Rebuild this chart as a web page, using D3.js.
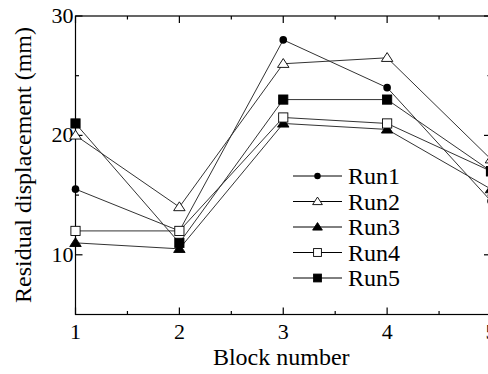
<!DOCTYPE html>
<html>
<head>
<meta charset="utf-8">
<script src="https://cdn.jsdelivr.net/npm/d3@7"></script>
<style>
  body { margin: 0; background: #fff; }
  svg { display: block; }
  text { font-family: "Liberation Serif", "Times New Roman", Tinos, "DejaVu Serif", "Noto Serif", serif; }
</style>
</head>
<body>
<div id="chart"></div>
<script>
// block numbers and residual displacement (mm) per run
var blocks = [1, 2, 3, 4, 5];
var run1 = [15.5, 12, 28, 24, 14.5];
var run2 = [20, 14, 26, 26.5, 18];
var run3 = [11, 10.5, 21, 20.5, 15.5];
var run4 = [12, 12, 21.5, 21, 17];
var run5 = [21, 11, 23, 23, 17];
var runNames = ["Run1", "Run2", "Run3", "Run4", "Run5"];
var yTicks = [10, 20, 30];
var xTicks = [1, 2, 3, 4, 5];

var width = 488, height = 374;

var svg = d3.select("#chart").append("svg")
  .attr("width", width)
  .attr("height", height);

var x = d3.scaleLinear().domain([1, 5]).range([75.5, 491]);
var y = d3.scaleLinear().domain([5, 30]).range([314.5, 16]);

var pLeft = x.range()[0], pRight = x.range()[1];
var pTop = y.range()[1], pBottom = y.range()[0];

// frame
var frame = svg.append("g").attr("stroke", "#000").attr("stroke-width", 1.2).attr("fill", "none");
frame.append("rect")
  .attr("x", pLeft).attr("y", pTop)
  .attr("width", pRight - pLeft).attr("height", pBottom - pTop);

// ticks (inward, on all four sides)
var xMinor = d3.range(1.5, 5, 1);
var yMinor = [15, 25];
xTicks.forEach(function(t) {
  frame.append("line").attr("x1", x(t)).attr("x2", x(t)).attr("y1", pBottom).attr("y2", pBottom - 7);
  frame.append("line").attr("x1", x(t)).attr("x2", x(t)).attr("y1", pTop).attr("y2", pTop + 7);
});
xMinor.forEach(function(t) {
  frame.append("line").attr("x1", x(t)).attr("x2", x(t)).attr("y1", pBottom).attr("y2", pBottom - 3.5);
  frame.append("line").attr("x1", x(t)).attr("x2", x(t)).attr("y1", pTop).attr("y2", pTop + 3.5);
});
yTicks.forEach(function(t) {
  frame.append("line").attr("x1", pLeft).attr("x2", pLeft + 7).attr("y1", y(t)).attr("y2", y(t));
  frame.append("line").attr("x1", pRight).attr("x2", pRight - 7).attr("y1", y(t)).attr("y2", y(t));
});
yMinor.forEach(function(t) {
  frame.append("line").attr("x1", pLeft).attr("x2", pLeft + 3.5).attr("y1", y(t)).attr("y2", y(t));
  frame.append("line").attr("x1", pRight).attr("x2", pRight - 3.5).attr("y1", y(t)).attr("y2", y(t));
});

// tick labels
svg.append("g").selectAll("text").data(xTicks).enter().append("text")
  .attr("x", function(d) { return x(d); })
  .attr("y", pBottom + 24)
  .attr("text-anchor", "middle")
  .attr("font-size", 22)
  .text(function(d) { return d; });

svg.append("g").selectAll("text").data(yTicks).enter().append("text")
  .attr("x", pLeft - 2)
  .attr("y", function(d) { return y(d) + 7; })
  .attr("text-anchor", "end")
  .attr("font-size", 22)
  .text(function(d) { return d; });

// axis titles
svg.append("text")
  .attr("x", x(3) - 2).attr("y", 365)
  .attr("text-anchor", "middle")
  .attr("font-size", 24)
  .text("Block number");

svg.append("text")
  .attr("transform", "translate(31,165) rotate(-90)")
  .attr("text-anchor", "middle")
  .attr("font-size", 24)
  .text("Residual displacement (mm)");

// markers
function marker(g, type, size) {
  var s = size || 1;
  if (type === "circle") {
    g.append("circle").attr("r", 3.8 * s).attr("fill", "#000");
  } else if (type === "tri" || type === "triOpen") {
    var r = 5.2 * s;
    g.append("path")
      .attr("d", "M0," + (-r) + "L" + (r * 1.1) + "," + (r * 0.7) + "L" + (-r * 1.1) + "," + (r * 0.7) + "Z")
      .attr("fill", type === "tri" ? "#000" : "#fff")
      .attr("stroke", "#000").attr("stroke-width", 0.9);
  } else {
    var h = 4.6 * s;
    g.append("rect").attr("x", -h).attr("y", -h).attr("width", 2 * h).attr("height", 2 * h)
      .attr("fill", type === "square" ? "#000" : "#fff")
      .attr("stroke", "#000").attr("stroke-width", 0.9);
  }
}

var series = [
  { name: runNames[0], values: run1, type: "circle" },
  { name: runNames[1], values: run2, type: "triOpen" },
  { name: runNames[2], values: run3, type: "tri" },
  { name: runNames[3], values: run4, type: "squareOpen" },
  { name: runNames[4], values: run5, type: "square" }
];

var line = d3.line()
  .x(function(d, i) { return x(blocks[i]); })
  .y(function(d) { return y(d); });

var plot = svg.append("g");
series.forEach(function(s) {
  plot.append("path")
    .attr("d", line(s.values))
    .attr("fill", "none")
    .attr("stroke", "#333")
    .attr("stroke-width", 1);
});
series.forEach(function(s) {
  s.values.forEach(function(v, i) {
    var g = plot.append("g").attr("transform", "translate(" + x(blocks[i]) + "," + y(v) + ")");
    marker(g, s.type);
  });
});

// legend
var legend = svg.append("g");
series.forEach(function(s, i) {
  var ly = 176 + i * 25.5;
  legend.append("line")
    .attr("x1", 293).attr("x2", 342).attr("y1", ly).attr("y2", ly)
    .attr("stroke", "#000").attr("stroke-width", 1);
  var g = legend.append("g").attr("transform", "translate(317.5," + ly + ")");
  marker(g, s.type, 0.85);
  legend.append("text")
    .attr("x", 348).attr("y", ly + 8)
    .attr("font-size", 24)
    .text(s.name);
});
</script>
</body>
</html>
